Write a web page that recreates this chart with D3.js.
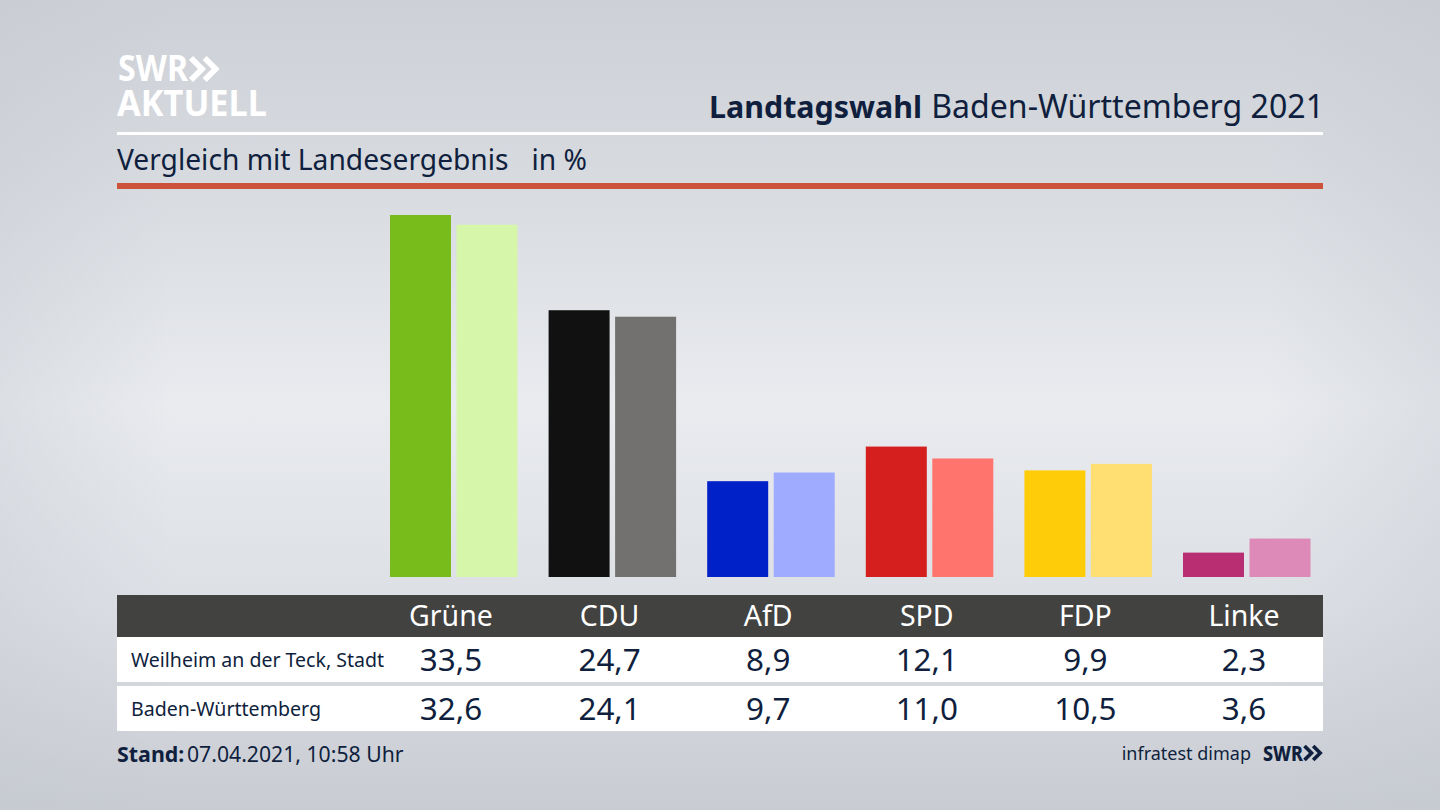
<!DOCTYPE html>
<html lang="de"><head><meta charset="utf-8">
<script src="https://cdn.jsdelivr.net/npm/d3@7"></script>
<style>html,body{margin:0;padding:0;background:#dfe1e6;overflow:hidden}svg{display:block}text{font-family:"Noto Sans",sans-serif;fill:#0f1f3d}</style>
</head><body><div id="chart"></div>
<script>
const parties = ["Grüne","CDU","AfD","SPD","FDP","Linke"];
const localLabel = "Weilheim an der Teck, Stadt";
const stateLabel = "Baden-Württemberg";
const localValues = [33.5,24.7,8.9,12.1,9.9,2.3];
const stateValues = [32.6,24.1,9.7,11.0,10.5,3.6];
const localColors = ["#78bc1b","#111111","#0020c8","#d51f1f","#ffcc0a","#b92e73"];
const stateColors = ["#d6f6a9","#72716f","#9eabff","#ff746d","#ffdf72","#de8ab8"];
const fmt = v => v.toFixed(1).replace(".", ",");

const W = 1440, H = 810;
const svg = d3.select("#chart").append("svg").attr("width",W).attr("height",H).attr("viewBox",`0 0 ${W} ${H}`);
const defs = svg.append("defs");
const bg = defs.append("linearGradient").attr("id","bg").attr("x1",0).attr("y1",0).attr("x2",0).attr("y2",1);
[[0,"#cdd0d6"],[0.2,"#d6d9de"],[0.5,"#e9ebef"],[0.75,"#dcdfe4"],[1,"#c8ccd2"]].forEach(([o,c])=>bg.append("stop").attr("offset",o).attr("stop-color",c));
const side = defs.append("linearGradient").attr("id","side");
[[0,"#c4c8cf",0.35],[0.12,"#c4c8cf",0],[0.88,"#c4c8cf",0],[1,"#c4c8cf",0.35]].forEach(([o,c,a])=>side.append("stop").attr("offset",o).attr("stop-color",c).attr("stop-opacity",a));
svg.append("rect").attr("width",W).attr("height",H).attr("fill","url(#bg)");
svg.append("rect").attr("width",W).attr("height",H).attr("fill","url(#side)");

const L = 117, R = 1323;
// Logo
svg.append("text").attr("x",118).attr("y",81).attr("font-size",35).attr("font-weight",700).style("fill","#fff").attr("textLength",70).attr("lengthAdjust","spacingAndGlyphs").text("SWR");
svg.append("text").attr("x",117).attr("y",116).attr("font-size",35).attr("font-weight",700).style("fill","#fff").attr("textLength",150).attr("lengthAdjust","spacingAndGlyphs").text("AKTUELL");
const chevrons = (g,x,y,s,color)=>{
  const line = d3.line();
  [0,0.62].forEach(o=>{
    g.append("path").attr("d",line([[x+o*s,y],[x+o*s+0.5*s,y+0.5*s],[x+o*s,y+s]])).attr("fill","none").attr("stroke",color).attr("stroke-width",s*0.26);
  });
};
chevrons(svg,191,58,22,"#fff");

// Header
svg.append("text").attr("x",709).attr("y",118).attr("font-size",30.4).attr("font-weight",700).text("Landtagswahl");
svg.append("text").attr("x",R+1).attr("y",118).attr("text-anchor","end").attr("font-size",32.1).text("Baden-Württemberg 2021");
svg.append("rect").attr("x",L).attr("y",132).attr("width",R-L).attr("height",3).attr("fill","#fff");
svg.append("text").attr("x",L).attr("y",170).attr("font-size",28.2).text("Vergleich mit Landesergebnis");
svg.append("text").attr("x",531.5).attr("y",170).attr("font-size",28.2).text("in %");
svg.append("rect").attr("x",L).attr("y",183).attr("width",R-L).attr("height",6).attr("fill","#cc5239");

// Scales
const x = d3.scalePoint().domain(parties).range([451,1244]);
const y = d3.scaleLinear().domain([0,33.5]).range([577.5,215]);
const sub = d3.scaleBand().domain(["local","state"]).range([-61,66.5]).paddingInner(0.083);
const baseline = 577;

const series = [["local",localValues,localColors],["state",stateValues,stateColors]];
series.forEach(([key,vals,cols])=>{
  svg.append("g").selectAll("rect").data(parties).join("rect")
    .attr("x",p=>x(p)+sub(key)).attr("width",sub.bandwidth())
    .attr("y",(p,i)=>y(vals[i])).attr("height",(p,i)=>baseline-y(vals[i]))
    .attr("fill",(p,i)=>cols[i]);
});

// Table
svg.append("rect").attr("x",L).attr("y",595).attr("width",R-L).attr("height",42).attr("fill","#424240");
svg.append("rect").attr("x",L).attr("y",637).attr("width",R-L).attr("height",45).attr("fill","#fff");
svg.append("rect").attr("x",L).attr("y",686).attr("width",R-L).attr("height",45).attr("fill","#fff");
svg.append("g").selectAll("text").data(parties).join("text")
  .attr("x",p=>x(p)).attr("y",626).attr("text-anchor","middle").attr("font-size",28.5).style("fill","#fff").text(p=>p);
svg.append("text").attr("x",131).attr("y",666.5).attr("font-size",19.55).text(localLabel);
svg.append("text").attr("x",131).attr("y",715.5).attr("font-size",19.6).text(stateLabel);
[[localValues,671],[stateValues,720]].forEach(([vals,yy])=>{
  svg.append("g").selectAll("text").data(vals).join("text")
    .attr("x",(v,i)=>x(parties[i])).attr("y",yy).attr("text-anchor","middle").attr("font-size",31.4).text(fmt);
});

// Footer
svg.append("text").attr("x",L).attr("y",761.5).attr("font-size",21.4).attr("font-weight",700).text("Stand:");
svg.append("text").attr("x",187).attr("y",761.5).attr("font-size",21.2).text("07.04.2021, 10:58 Uhr");
svg.append("text").attr("x",1251).attr("y",760).attr("text-anchor","end").attr("font-size",18).text("infratest dimap");
svg.append("text").attr("x",1263).attr("y",761).attr("font-size",21).attr("font-weight",800).attr("textLength",40).attr("lengthAdjust","spacingAndGlyphs").text("SWR");
chevrons(svg,1304.5,746,14,"#0f1f3d");
</script></body></html>
